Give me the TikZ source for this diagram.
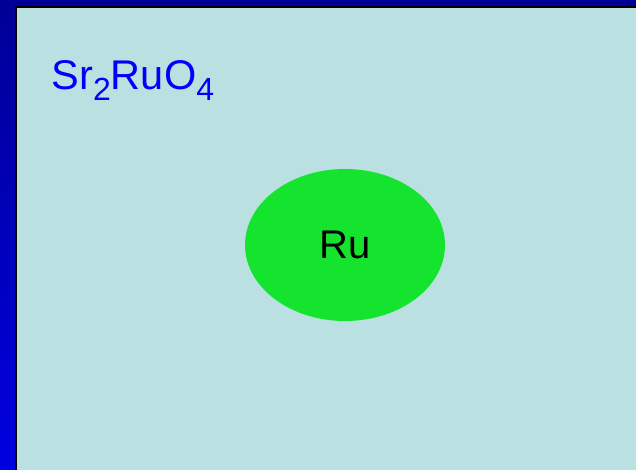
\documentclass[tikz,border=0pt]{standalone}
\usepackage{fontspec}
\setmainfont{Liberation Sans}
\usetikzlibrary{shapes.geometric}
\definecolor{panelcol}{HTML}{BAE0E2}
\definecolor{bgtop}{HTML}{000096}
\definecolor{bgbot}{HTML}{0000E0}
\definecolor{rucol}{HTML}{14E42E}
\definecolor{labelblue}{HTML}{0000FF}
\newcommand{\subsc}[1]{\raisebox{-10.5pt}{\fontsize{32}{34}\selectfont #1}}
\tikzset{
  formulatext/.style={font=\fontsize{41.5}{44}\selectfont, inner sep=0pt},
  atom/.style={ellipse, fill=rucol, draw=none, minimum width=200pt, minimum height=152pt, inner sep=0pt, font=\fontsize{40}{44}\selectfont}
}
\begin{document}
\begin{tikzpicture}[x=1pt,y=1pt]
\useasboundingbox (0,0) rectangle (636,-470);
\shade[top color=bgtop, bottom color=bgbot] (0,0) rectangle (636,-470);
\draw[line width=2pt, fill=panelcol] (16,-7) rectangle (650,-480);
\node[formulatext, text=labelblue, anchor=base west] (formula) at (51.5,-90) {Sr\subsc{2}RuO\subsc{4}};
\node[atom] (ru) at (345,-245) {Ru};
\end{tikzpicture}
\end{document}
